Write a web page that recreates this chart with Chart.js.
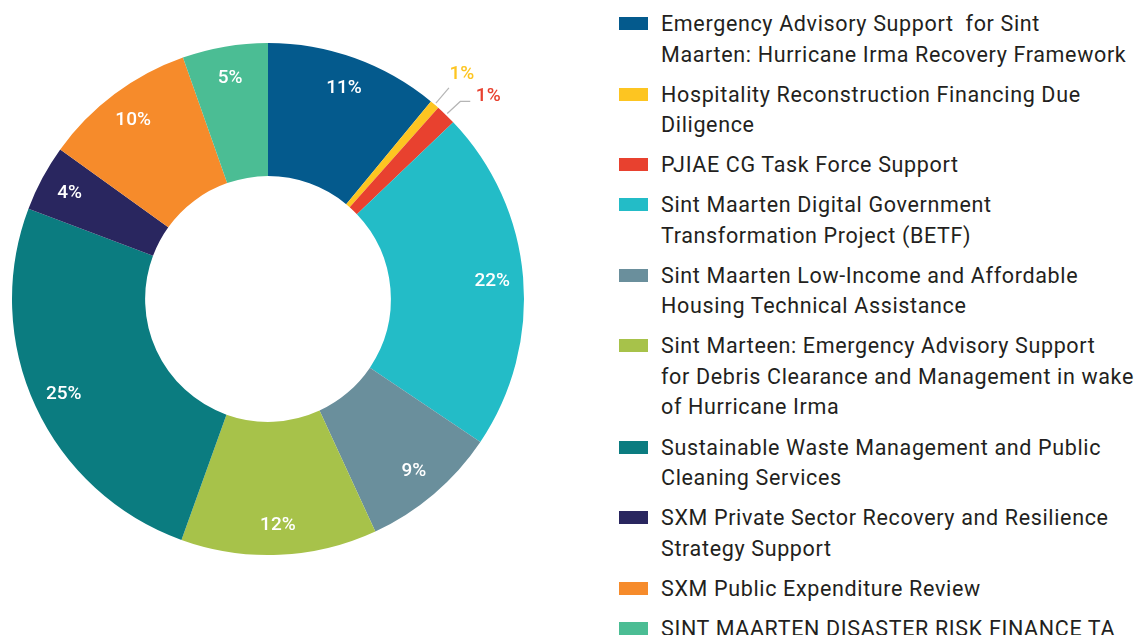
<!DOCTYPE html>
<html>
<head>
<meta charset="utf-8">
<script src="https://cdn.jsdelivr.net/npm/chart.js@4.4.0/dist/chart.umd.min.js"></script>
<style>
  html, body { margin: 0; padding: 0; background: #fff; }
  body { width: 1140px; height: 635px; position: relative; overflow: hidden; font-family: Roboto, "Noto Sans", sans-serif; }
  #chartBox { position: absolute; left: 0; top: 0; width: 536px; height: 598px; }
  #legend { position: absolute; left: 619px; top: 9px; margin: 0; padding: 0; list-style: none; }
  #legend li { position: relative; padding-left: 42px; margin-bottom: 9.6px; font-size: 21.5px; line-height: 30.5px; color: #231f20; letter-spacing: 0.65px; white-space: pre; }
  #legend li span.box { position: absolute; left: 0; top: 8px; width: 29px; height: 13px; }
</style>
</head>
<body>
<div id="chartBox"><canvas id="donut"></canvas></div>
<ul id="legend"></ul>
<script>
// 项目名称（图例里按原图换行）
const labels = [
    'Emergency Advisory Support  for Sint\nMaarten: Hurricane Irma Recovery Framework',
    'Hospitality Reconstruction Financing Due\nDiligence',
    'PJIAE CG Task Force Support',
    'Sint Maarten Digital Government\nTransformation Project (BETF)',
    'Sint Maarten Low-Income and Affordable\nHousing Technical Assistance',
    'Sint Marteen: Emergency Advisory Support\nfor Debris Clearance and Management in wake\nof Hurricane Irma',
    'Sustainable Waste Management and Public\nCleaning Services',
    'SXM Private Sector Recovery and Resilience\nStrategy Support',
    'SXM Public Expenditure Review',
    'SINT MAARTEN DISASTER RISK FINANCE TA'
];

// 占比（%），按图上扇区角度估计
const shares = [11.0, 0.6, 1.3, 21.6, 8.7, 12.4, 25.3, 4.2, 9.7, 5.4];

// 扇区上显示的百分比文字
const pctLabels = ['11%', '1%', '1%', '22%', '9%', '12%', '25%', '4%', '10%', '5%'];

const colors = ['#045a8d', '#fdc521', '#e8412f', '#23bcc7', '#6a8f9c', '#a7c24a', '#0b7c80', '#29265f', '#f68b2b', '#4bbd94'];

// 小扇区的标签放在外面并画引线
const outsideLabel = [false, true, true, false, false, false, false, false, false, false];

const pctPlugin = {
    id: 'pctLabels',
    afterDatasetsDraw(chart) {
        const ctx = chart.ctx;
        const meta = chart.getDatasetMeta(0);
        ctx.save();
        ctx.textAlign = 'center';
        ctx.textBaseline = 'middle';
        meta.data.forEach((arc, i) => {
            const mid = (arc.startAngle + arc.endAngle) / 2;
            const cx = arc.x, cy = arc.y;
            if (!outsideLabel[i]) {
                const r = arc.outerRadius - 31;
                ctx.font = '500 19px Roboto, sans-serif';
                ctx.fillStyle = '#ffffff';
                ctx.fillText(pctLabels[i], cx + Math.cos(mid) * r, cy + Math.sin(mid) * r + 1);
            } else {
                const r0 = arc.outerRadius + 2;
                const r1 = arc.outerRadius + 22;
                const x0 = cx + Math.cos(mid) * r0, y0 = cy + Math.sin(mid) * r0;
                let x1 = cx + Math.cos(mid) * r1, y1 = cy + Math.sin(mid) * r1;
                ctx.strokeStyle = '#b5b5b5';
                ctx.lineWidth = 1.2;
                ctx.beginPath();
                ctx.moveTo(x0, y0);
                if (i === 1) {
                    ctx.lineTo(x1, y1);
                } else {
                    x1 = x0 + 13; y1 = y0 - 12;
                    ctx.lineTo(x1, y1);
                    ctx.lineTo(x1 + 10, y1);
                }
                ctx.stroke();
                ctx.font = '500 19px Roboto, sans-serif';
                ctx.fillStyle = colors[i];
                if (i === 1) {
                    ctx.fillText(pctLabels[i], x1 + 13, y1 - 14);
                } else {
                    ctx.fillText(pctLabels[i], x1 + 28, y1 - 5);
                }
            }
        });
        ctx.restore();
    }
};

new Chart(document.getElementById('donut'), {
    type: 'doughnut',
    data: {
        labels: labels,
        datasets: [{
            data: shares,
            backgroundColor: colors,
            borderWidth: 0
        }]
    },
    options: {
        responsive: true,
        maintainAspectRatio: false,
        animation: false,
        cutout: '48%',
        layout: { padding: 12 },
        plugins: {
            legend: { display: false },
            tooltip: { enabled: false }
        }
    },
    plugins: [pctPlugin]
});

// HTML 图例
const legendEl = document.getElementById('legend');
labels.forEach((name, i) => {
    const li = document.createElement('li');
    const box = document.createElement('span');
    box.className = 'box';
    box.style.background = colors[i];
    li.appendChild(box);
    name.split('\n').forEach((line, k) => {
        if (k > 0) li.appendChild(document.createElement('br'));
        li.appendChild(document.createTextNode(line));
    });
    legendEl.appendChild(li);
});
</script>
</body>
</html>
